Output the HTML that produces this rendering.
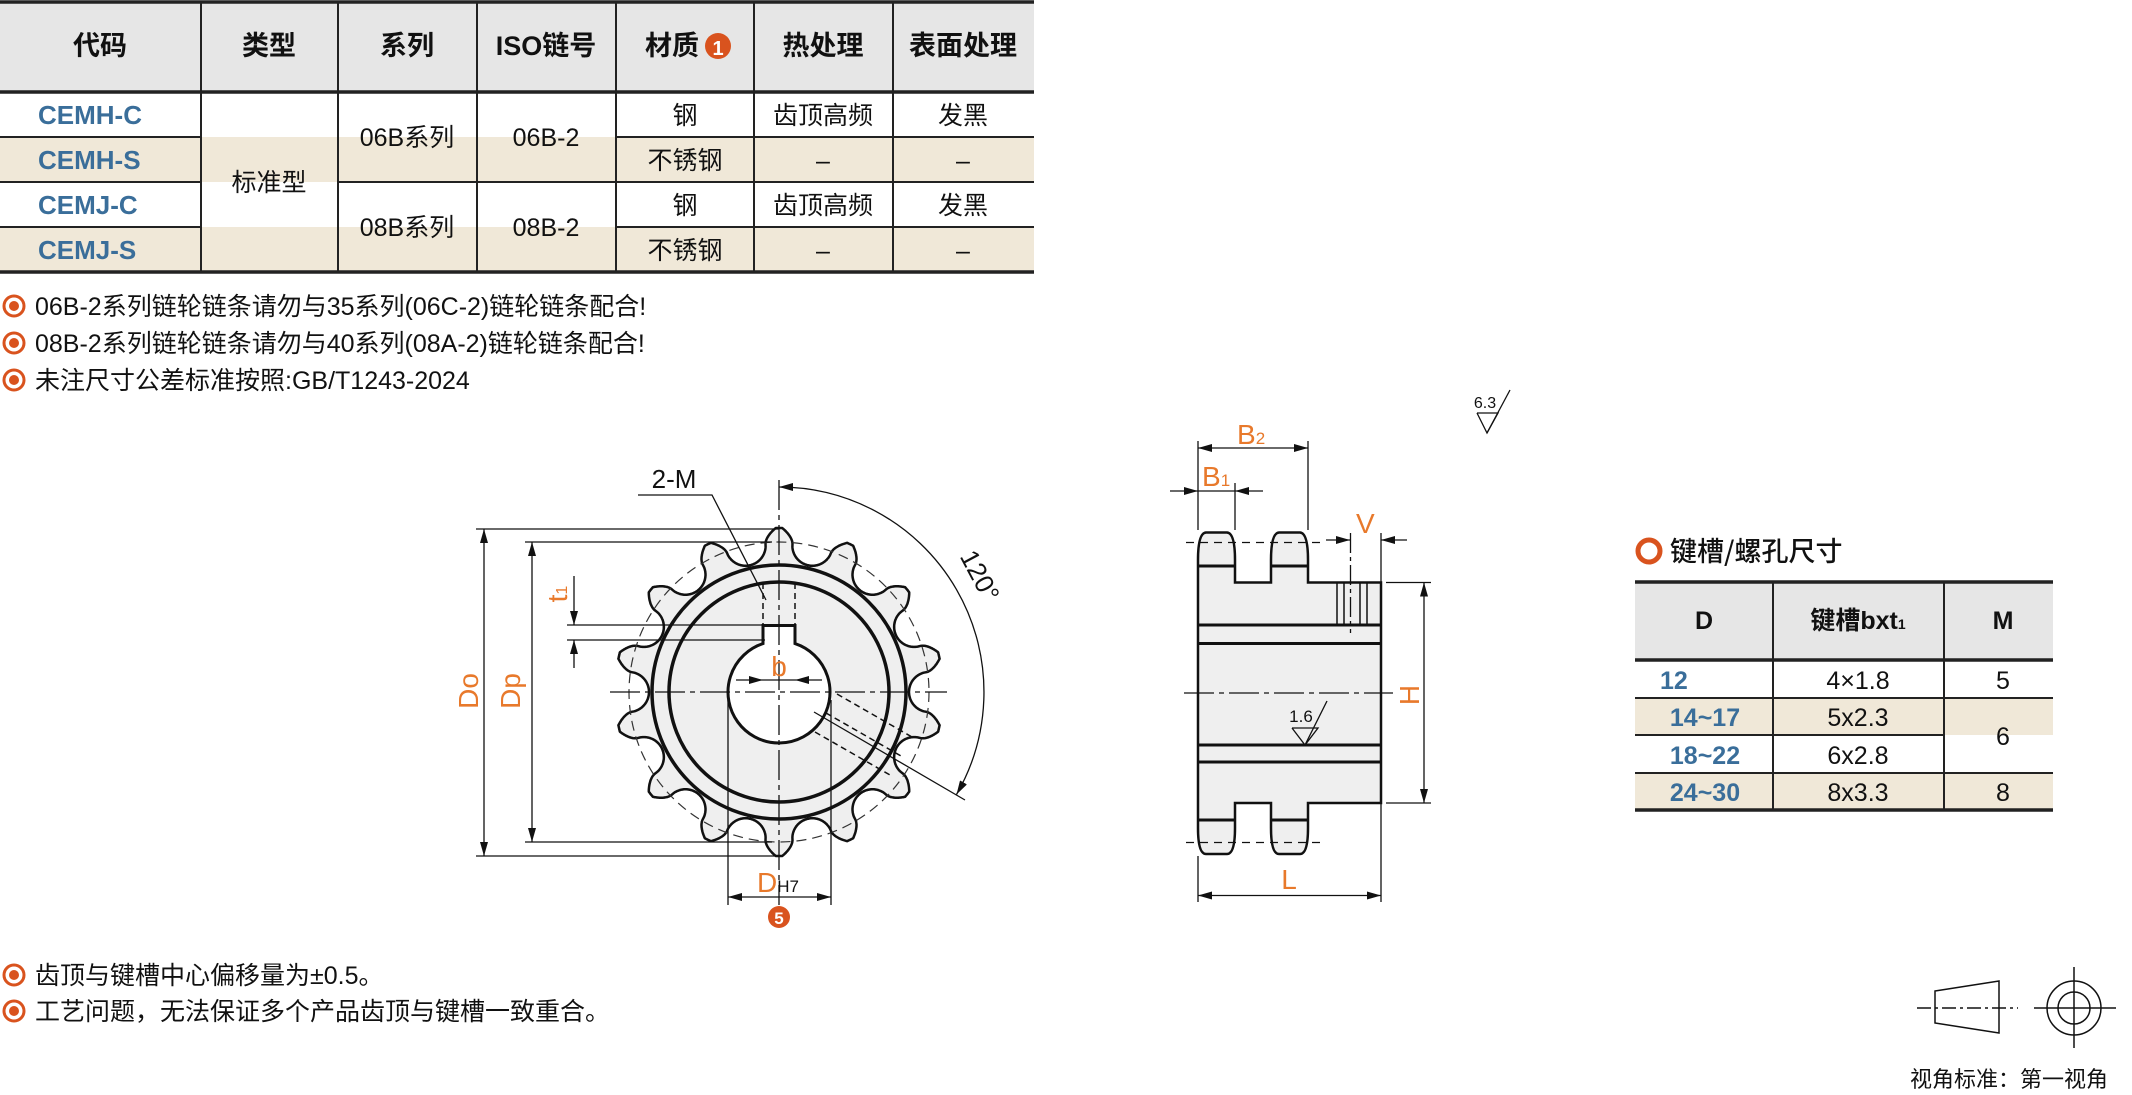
<!DOCTYPE html>
<html><head><meta charset="utf-8"><style>
html,body{margin:0;padding:0;background:#fff}
svg{display:block}
text{font-family:"Liberation Sans","Noto Sans CJK SC",sans-serif}
.cj{font-family:"Noto Sans CJK SC","Liberation Sans",sans-serif}
</style></head><body>
<svg id="s" width="2132" height="1095" viewBox="0 0 2132 1095" xmlns="http://www.w3.org/2000/svg">
<defs>
<marker id="a" viewBox="0 0 14 8" refX="14" refY="4" markerWidth="14" markerHeight="8" markerUnits="userSpaceOnUse" orient="auto-start-reverse"><path d="M0,0 L14,4 L0,8 Z" fill="#111"/></marker>
</defs>
<!-- LEFT TABLE -->
<rect x="0" y="3" width="1034" height="89" fill="#e6e6e6"/>
<rect x="0" y="137" width="1034" height="45" fill="#f0e8d8"/>
<rect x="0" y="227" width="1034" height="45" fill="#f0e8d8"/>
<g stroke="#222" stroke-width="2">
<line x1="201" y1="3" x2="201" y2="272"/><line x1="338" y1="3" x2="338" y2="272"/>
<line x1="477" y1="3" x2="477" y2="272"/><line x1="616" y1="3" x2="616" y2="272"/>
<line x1="754" y1="3" x2="754" y2="272"/><line x1="893" y1="3" x2="893" y2="272"/>
<line x1="0" y1="137" x2="201" y2="137"/><line x1="616" y1="137" x2="1034" y2="137"/>
<line x1="0" y1="182" x2="201" y2="182"/><line x1="338" y1="182" x2="1034" y2="182"/>
<line x1="0" y1="227" x2="201" y2="227"/><line x1="616" y1="227" x2="1034" y2="227"/>
</g>
<g stroke="#222" stroke-width="3.5"><line x1="0" y1="2" x2="1034" y2="2"/><line x1="0" y1="92" x2="1034" y2="92"/><line x1="0" y1="272" x2="1034" y2="272"/></g>
<g class="cj" font-size="27" font-weight="700" text-anchor="middle" fill="#111">
<text x="100" y="55">代码</text><text x="269" y="55">类型</text><text x="407" y="55">系列</text>
<text x="546" y="55">ISO链号</text><text x="672" y="55">材质</text><text x="823" y="55">热处理</text><text x="963" y="55">表面处理</text>
</g>
<circle cx="718" cy="46" r="13" fill="#d9531e"/><text x="718" y="55" font-size="20" font-weight="700" fill="#fff" text-anchor="middle">1</text>
<g font-size="26" font-weight="700" fill="#3a6e9a">
<text x="38" y="124">CEMH-C</text><text x="38" y="169">CEMH-S</text><text x="38" y="214">CEMJ-C</text><text x="38" y="259">CEMJ-S</text>
</g>
<g class="cj" font-size="25" fill="#111" text-anchor="middle">
<text x="269" y="191">标准型</text>
<text x="407" y="146">06B系列</text><text x="546" y="146">06B-2</text>
<text x="407" y="236">08B系列</text><text x="546" y="236">08B-2</text>
<text x="685" y="124">钢</text><text x="685" y="169">不锈钢</text><text x="685" y="214">钢</text><text x="685" y="259">不锈钢</text>
<text x="823" y="124">齿顶高频</text><text x="823" y="169">–</text><text x="823" y="214">齿顶高频</text><text x="823" y="259">–</text>
<text x="963" y="124">发黑</text><text x="963" y="169">–</text><text x="963" y="214">发黑</text><text x="963" y="259">–</text>
</g>
<!-- bullets -->
<g fill="none" stroke="#d9531e" stroke-width="3"><circle cx="14" cy="306" r="10"/><circle cx="14" cy="343" r="10"/><circle cx="14" cy="380" r="10"/><circle cx="14" cy="975" r="10"/><circle cx="14" cy="1011" r="10"/></g>
<g fill="#d9531e"><circle cx="14" cy="306" r="5"/><circle cx="14" cy="343" r="5"/><circle cx="14" cy="380" r="5"/><circle cx="14" cy="975" r="5"/><circle cx="14" cy="1011" r="5"/></g>
<g class="cj" font-size="25" fill="#111">
<text x="35" y="315">06B-2系列链轮链条请勿与35系列(06C-2)链轮链条配合!</text>
<text x="35" y="352">08B-2系列链轮链条请勿与40系列(08A-2)链轮链条配合!</text>
<text x="35" y="389">未注尺寸公差标准按照:GB/T1243-2024</text>
<text x="35" y="984">齿顶与键槽中心偏移量为±0.5。</text>
<text x="35" y="1020">工艺问题，无法保证多个产品齿顶与键槽一致重合。</text>
</g>
<!-- FRONT VIEW -->
<path id="sp" fill="#efefef" stroke="#111" stroke-width="2.5"/>
<circle cx="779" cy="692" r="150" fill="none" stroke="#333" stroke-width="1.2" stroke-dasharray="10 6"/>
<circle cx="779" cy="692" r="127" fill="#efefef" stroke="#111" stroke-width="3.5"/>
<circle cx="779" cy="692" r="110" fill="#efefef" stroke="#111" stroke-width="3.5"/>
<path d="M763,643.6 L763,625.5 L795,625.5 L795,643.6 A51,51 0 1 1 763,643.6 Z" fill="#fff" stroke="#111" stroke-width="3"/>
<g stroke="#111" stroke-width="1.5" stroke-dasharray="6 4" fill="none">
<line x1="763" y1="583" x2="763" y2="625"/><line x1="795" y1="583" x2="795" y2="625"/>
<line x1="826" y1="713" x2="901" y2="756"/><line x1="815" y1="732" x2="890" y2="775"/>
<line x1="837" y1="694" x2="912" y2="737"/>
</g>
<g stroke="#111" stroke-width="1.3" fill="none">
<line x1="779" y1="480" x2="779" y2="905" stroke-dasharray="30 5 5 5"/>
<line x1="610" y1="692" x2="947" y2="692" stroke-dasharray="30 5 5 5"/>
<line x1="814" y1="712" x2="965" y2="800"/>
<!-- Do -->
<line x1="476" y1="529" x2="779" y2="529"/><line x1="476" y1="856" x2="779" y2="856"/>
<line x1="484" y1="529" x2="484" y2="856" marker-start="url(#a)" marker-end="url(#a)"/>
<!-- Dp -->
<line x1="525" y1="542" x2="772" y2="542"/><line x1="525" y1="842" x2="772" y2="842"/>
<line x1="532" y1="542" x2="532" y2="842" marker-start="url(#a)" marker-end="url(#a)"/>
<!-- t1 -->
<line x1="567" y1="625" x2="765" y2="625"/><line x1="567" y1="640" x2="765" y2="640"/>
<line x1="574" y1="576" x2="574" y2="625" marker-end="url(#a)"/><line x1="574" y1="668" x2="574" y2="640" marker-end="url(#a)"/>
<!-- b -->
<line x1="736" y1="680" x2="763" y2="680" marker-end="url(#a)"/><line x1="822" y1="680" x2="795" y2="680" marker-end="url(#a)"/>
<line x1="763" y1="680" x2="795" y2="680"/>
<!-- DH7 -->
<line x1="728" y1="700" x2="728" y2="905"/><line x1="831" y1="700" x2="831" y2="905"/>
<line x1="728" y1="897" x2="831" y2="897" marker-start="url(#a)" marker-end="url(#a)"/>
<!-- 2-M leader -->
<polyline points="638,495 712,495 766,600"/>
<!-- 120 arc -->
<path d="M779,487 A205,205 0 0 1 956.5,794.5" marker-start="url(#a)" marker-end="url(#a)"/>
</g>
<text x="674" y="488" font-size="26" fill="#111" text-anchor="middle">2-M</text>
<text transform="translate(972,580) rotate(62)" font-size="26" fill="#111" text-anchor="middle">120°</text>
<g fill="#e8792b" font-size="28">
<text transform="translate(478,691) rotate(-90)" text-anchor="middle">Do</text>
<text transform="translate(520,691) rotate(-90)" text-anchor="middle">Dp</text>
<text transform="translate(567,594) rotate(-90)" text-anchor="middle">t<tspan font-size="16">1</tspan></text>
<text x="779" y="676" text-anchor="middle">b</text>
<text x="757" y="892">D<tspan font-size="17" fill="#111">H7</tspan></text>
</g>
<circle cx="779" cy="917" r="11" fill="#d9531e"/><text x="779" y="924" font-size="17" font-weight="700" fill="#fff" text-anchor="middle">5</text>
<!-- SIDE VIEW -->
<path d="M1198,560 Q1198,533 1206,532.5 L1227,532.5 Q1235,533 1235,560 L1235,582.5 L1271,582.5 L1271,560 Q1271,533 1279,532.5 L1300,532.5 Q1308,533 1308,560 L1308,582.5 L1381,582.5 L1381,803 L1308,803 L1308,828 Q1308,854 1300,854 L1279,854 Q1271,854 1271,828 L1271,803 L1235,803 L1235,828 Q1235,854 1227,854 L1206,854 Q1198,854 1198,828 Z" fill="#efefef" stroke="#111" stroke-width="2.5"/>
<g stroke="#111" stroke-width="3">
<line x1="1198" y1="566" x2="1235" y2="566"/><line x1="1271" y1="566" x2="1308" y2="566"/>
<line x1="1198" y1="820" x2="1235" y2="820"/><line x1="1271" y1="820" x2="1308" y2="820"/>
<line x1="1198" y1="625" x2="1381" y2="625"/><line x1="1198" y1="643.5" x2="1381" y2="643.5"/>
<line x1="1198" y1="745" x2="1381" y2="745"/><line x1="1198" y1="762" x2="1381" y2="762"/>
</g>
<g stroke="#111" stroke-width="1.5"><line x1="1337" y1="582" x2="1337" y2="625"/><line x1="1344" y1="582" x2="1344" y2="625"/><line x1="1360" y1="582" x2="1360" y2="625"/><line x1="1367" y1="582" x2="1367" y2="625"/></g>
<g stroke="#111" stroke-width="1.3" fill="none">
<line x1="1184" y1="693" x2="1393" y2="693" stroke-dasharray="30 5 5 5"/>
<line x1="1186" y1="542.5" x2="1322" y2="542.5" stroke-dasharray="8 6"/>
<line x1="1186" y1="842.5" x2="1322" y2="842.5" stroke-dasharray="8 6"/>
<line x1="1350.5" y1="533" x2="1350.5" y2="633" stroke-dasharray="20 4 4 4"/>
<!-- B2 -->
<line x1="1198" y1="441" x2="1198" y2="530"/><line x1="1308" y1="441" x2="1308" y2="530"/>
<line x1="1198" y1="448" x2="1308" y2="448" marker-start="url(#a)" marker-end="url(#a)"/>
<!-- B1 -->
<line x1="1235" y1="483" x2="1235" y2="530"/>
<line x1="1170" y1="491" x2="1198" y2="491" marker-end="url(#a)"/><line x1="1263" y1="491" x2="1235" y2="491" marker-end="url(#a)"/>
<line x1="1198" y1="491" x2="1235" y2="491"/>
<!-- V -->
<line x1="1381" y1="533" x2="1381" y2="582"/>
<line x1="1326" y1="540" x2="1350" y2="540" marker-end="url(#a)"/><line x1="1407" y1="540" x2="1381" y2="540" marker-end="url(#a)"/>
<!-- H -->
<line x1="1386" y1="582.5" x2="1431" y2="582.5"/><line x1="1386" y1="803" x2="1431" y2="803"/>
<line x1="1424" y1="582.5" x2="1424" y2="803" marker-start="url(#a)" marker-end="url(#a)"/>
<!-- L -->
<line x1="1198" y1="856" x2="1198" y2="902"/><line x1="1381" y1="803" x2="1381" y2="902"/>
<line x1="1198" y1="895.5" x2="1381" y2="895.5" marker-start="url(#a)" marker-end="url(#a)"/>
<!-- roughness -->
<polyline points="1292,728 1318,728 1305,745 1292,728"/><line x1="1305" y1="745" x2="1327" y2="701"/>
<polyline points="1477,413 1498,413 1487,433 1477,413"/><line x1="1487" y1="433" x2="1510" y2="390"/>
</g>
<text x="1301" y="722" font-size="17" fill="#111" text-anchor="middle">1.6</text>
<text x="1485" y="408" font-size="16" fill="#111" text-anchor="middle">6.3</text>
<g fill="#e8792b" font-size="28">
<text x="1237" y="444">B<tspan font-size="17">2</tspan></text>
<text x="1202" y="486">B<tspan font-size="17">1</tspan></text>
<text x="1356" y="533">V</text>
<text transform="translate(1419,695) rotate(-90)" text-anchor="middle">H</text>
<text x="1289" y="889" text-anchor="middle">L</text>
</g>
<!-- RIGHT TABLE -->
<circle cx="1649" cy="551" r="11" fill="none" stroke="#d9531e" stroke-width="5"/>
<text class="cj" x="1670" y="561" font-size="27" font-weight="500" fill="#111">键槽/螺孔尺寸</text>
<rect x="1635" y="582" width="418" height="78" fill="#e6e6e6"/>
<rect x="1635" y="698" width="418" height="37" fill="#f0e8d8"/>
<rect x="1635" y="773" width="418" height="37" fill="#f0e8d8"/>
<g stroke="#222" stroke-width="2">
<line x1="1773" y1="582" x2="1773" y2="810"/><line x1="1944" y1="582" x2="1944" y2="810"/>
<line x1="1635" y1="698" x2="2053" y2="698"/><line x1="1635" y1="735" x2="1944" y2="735"/><line x1="1635" y1="773" x2="2053" y2="773"/>
</g>
<g stroke="#222" stroke-width="3.5"><line x1="1635" y1="582" x2="2053" y2="582"/><line x1="1635" y1="660" x2="2053" y2="660"/><line x1="1635" y1="810" x2="2053" y2="810"/></g>
<g class="cj" font-size="25" font-weight="700" fill="#111" text-anchor="middle">
<text x="1704" y="629">D</text><text x="1858" y="629">键槽bxt<tspan font-size="14">1</tspan></text><text x="2003" y="629">M</text>
</g>
<g font-size="25" font-weight="700" fill="#3a6e9a">
<text x="1660" y="689">12</text><text x="1705" y="726" text-anchor="middle">14~17</text><text x="1705" y="764" text-anchor="middle">18~22</text><text x="1705" y="801" text-anchor="middle">24~30</text>
</g>
<g font-size="25" fill="#111" text-anchor="middle">
<text x="1858" y="689">4×1.8</text><text x="1858" y="726">5x2.3</text><text x="1858" y="764">6x2.8</text><text x="1858" y="801">8x3.3</text>
<text x="2003" y="689">5</text><text x="2003" y="745">6</text><text x="2003" y="801">8</text>
</g>
<!-- projection symbol -->
<g stroke="#111" stroke-width="1.5" fill="none">
<polygon points="1935,991 1999,981 1999,1033 1935,1023"/>
<line x1="1917" y1="1008" x2="2018" y2="1008" stroke-dasharray="14 4 3 4"/>
<circle cx="2074" cy="1008" r="27"/><circle cx="2074" cy="1008" r="16"/>
<line x1="2034" y1="1008" x2="2116" y2="1008"/><line x1="2074" y1="967" x2="2074" y2="1048"/>
</g>
<text class="cj" x="1910" y="1087" font-size="22" fill="#111">视角标准：第一视角</text>
</svg>
<script>
(function(){
var cx=779,cy=692,Rt=164,Rp=150,rs=20,N=14,p=Math.PI/N,ga=Math.asin(rs/Rp),r0=Rp*Math.cos(ga);
var d="",M=4032;
for(var i=0;i<=M;i++){
 var th=i/M*2*Math.PI, t=th%(2*p), phi=t>p?2*p-t:t, g=p-phi, r;
 if(g<ga){r=Rp*Math.cos(g)-Math.sqrt(Math.max(0,rs*rs-Math.pow(Rp*Math.sin(g),2)));}
 else{var u=(g-ga)/(p-ga-0.02);if(u>1)u=1;r=r0+(Rt-r0)*Math.pow(u,0.6);}
 var x=cx+r*Math.sin(th),y=cy-r*Math.cos(th);
 d+=(i?"L":"M")+x.toFixed(1)+","+y.toFixed(1);
}
document.getElementById("sp").setAttribute("d",d+"Z");
})();
</script>
</body></html>
